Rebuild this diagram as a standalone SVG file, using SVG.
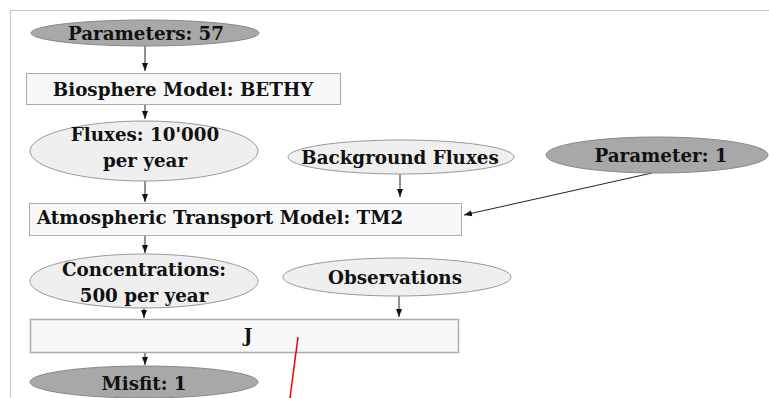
<svg xmlns="http://www.w3.org/2000/svg" width="769" height="398" viewBox="0 0 769 398">
<style>
text{font-family:"DejaVu Serif","Liberation Serif",serif;font-weight:bold;font-size:18.3px;fill:#111;text-anchor:middle}
.dark{fill:#a8a8a8;stroke:#888;stroke-width:1}
.light{fill:#efefef;stroke:#999;stroke-width:1}
.box{fill:#f8f8f8;stroke:#aaa;stroke-width:1}
.c{stroke:#222;stroke-width:1;fill:none;marker-end:url(#ah)}
</style>
<defs>
<marker id="ah" viewBox="0 0 8 7" refX="8" refY="3.5" markerWidth="8" markerHeight="7" markerUnits="userSpaceOnUse" orient="auto">
<path d="M0,0.5 L8,3.5 L0,6.5 Z" fill="#111"/>
</marker>
</defs>
<rect width="769" height="398" fill="#fff"/>
<path d="M10.5,398 V10.5 H769" fill="none" stroke="#c8c8c8" stroke-width="1"/>
<g id="connectors">
<line class="c" x1="145" y1="46" x2="145" y2="71"/>
<line class="c" x1="145" y1="104" x2="145" y2="119"/>
<line class="c" x1="145" y1="181" x2="145" y2="202"/>
<line class="c" x1="400" y1="174" x2="400" y2="197"/>
<line class="c" x1="652" y1="173" x2="464" y2="215"/>
<line class="c" x1="145" y1="236" x2="145" y2="253"/>
<line class="c" x1="144" y1="305" x2="144" y2="318"/>
<line class="c" x1="399" y1="296" x2="399" y2="317"/>
<line class="c" x1="145" y1="353" x2="145" y2="365"/>
</g>
<g id="n_params57"><ellipse class="dark" cx="145" cy="33" rx="114" ry="13"/><text x="146" y="40">Parameters: 57</text></g>
<g id="n_bethy"><rect class="box" x="26.5" y="73.5" width="314" height="31"/><text x="183" y="96">Biosphere Model: BETHY</text></g>
<g id="n_fluxes"><ellipse class="light" cx="144" cy="151" rx="114" ry="30"/><text x="145" y="141">Fluxes: 10'000</text><text x="145" y="167">per year</text></g>
<g id="n_bgfluxes"><ellipse class="light" cx="401" cy="157" rx="113" ry="17"/><text x="400" y="164">Background Fluxes</text></g>
<g id="n_param1"><ellipse class="dark" cx="657" cy="155" rx="111" ry="18"/><text x="661" y="162">Parameter: 1</text></g>
<g id="n_tm2"><rect class="box" x="29.5" y="203.5" width="432" height="32"/><text x="37" y="224" style="text-anchor:start">Atmospheric Transport Model: TM2</text></g>
<g id="n_conc"><ellipse class="light" cx="144" cy="281" rx="114" ry="27"/><text x="144" y="276">Concentrations:</text><text x="144" y="302">500 per year</text></g>
<g id="n_obs"><ellipse class="light" cx="397" cy="277" rx="114" ry="19"/><text x="395" y="284">Observations</text></g>
<g id="n_j"><rect class="box" x="30.5" y="319.5" width="428" height="33" style="stroke-width:1.5"/><text x="248" y="342">J</text></g>
<g id="n_misfit"><ellipse class="dark" cx="144" cy="382" rx="114" ry="16"/><text x="144" y="390">Misfit: 1</text></g>
<line x1="298" y1="337" x2="290" y2="398" stroke="#e00" stroke-width="1.5"/>
</svg>
